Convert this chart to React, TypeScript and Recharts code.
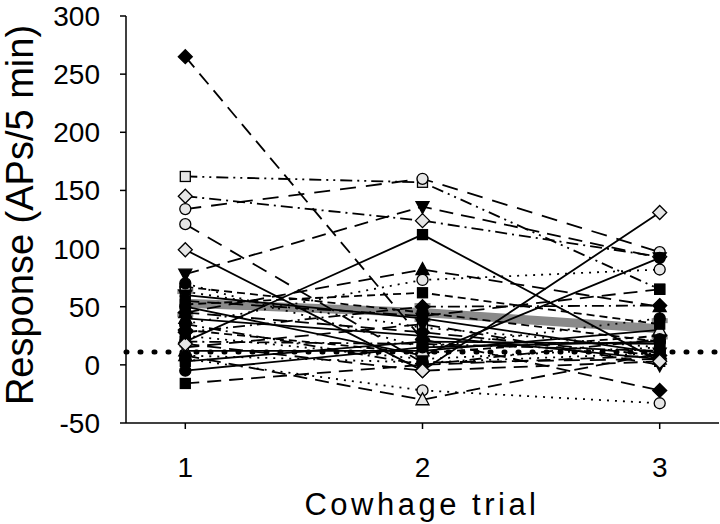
import { LineChart, Line, XAxis, YAxis, ReferenceLine, ErrorBar, Label } from 'recharts'

const trials = [1, 2, 3]

// response of each unit in trials 1, 2, 3 (APs/5 min)
const unitResponses = [
  [265, 22, -22],
  [162, 157, 65],
  [145, 124, 93],
  [134, 160, 97],
  [121, 2, 5],
  [99, -5, 131],
  [78, 136, 92],
  [20, 112, 3],
  [45, 82, 50],
  [35, 73, 82],
  [5, -22, -33],
  [8, -30, 10],
  [-16, 0, 8],
  [-5, 15, 20],
  [67, 45, 20],
  [63, 32, 15],
  [55, 42, 65],
  [50, 8, 92],
  [40, 25, 5],
  [30, 10, 25],
  [25, 5, 15],
  [20, 18, 12],
  [15, 35, 0],
  [12, 12, 30],
  [8, 2, 10],
  [3, 20, 18],
  [45, 28, 8],
  [35, 0, 22],
  [60, 40, 10],
  [18, -5, 3],
  [28, 50, 51],
  [70, 15, 40],
  [52, 62, 35],
]

const meanResponse = [53, 45, 31]
const meanSem = [10, 6, 7]
const baselineResponse = 11
const yTicks = [-50, 0, 50, 100, 150, 200, 250, 300]

type Shape = 'circle' | 'square' | 'diamond' | 'triUp' | 'triDown'

const SHAPES: Shape[] = ['diamond', 'square', 'diamond', 'circle', 'circle', 'diamond', 'triDown', 'square', 'triUp', 'circle', 'circle', 'triUp', 'square', 'circle', 'circle', 'square', 'square', 'circle', 'triUp', 'diamond', 'square', 'circle', 'triDown', 'triUp', 'circle', 'square', 'diamond', 'circle', 'triDown', 'diamond', 'diamond', 'circle', 'square']
const FILLED = [1, 0, 0, 0, 0, 0, 1, 1, 1, 0, 0, 0, 1, 1, 1, 0, 1, 1, 1, 1, 1, 1, 1, 0, 1, 1, 1, 1, 1, 0, 1, 1, 1]
const DASHES = ['14 8', '12 5 2 5 2 5', '12 5 2 5', '16 10', '16 10', '', '14 8', '', '14 8', '2 6', '2 6', '14 8', '14 8', '', '8 5', '2 6', '14 8', '', '', '8 5', '2 6', '12 5 2 5', '14 8', '', '2 6', '', '14 8', '12 5 2 5', '', '14 8', '12 5 2 5', '2 6', '8 5']

const FONT = '"Liberation Sans", Arial, sans-serif'

const rows = trials.map((trial, i) => {
  const row: Record<string, number> = { trial, mean: meanResponse[i], sem: meanSem[i] }
  unitResponses.forEach((s, j) => { row[`u${j}`] = s[i] })
  return row
})

function Marker({ cx, cy, shape, filled }: { cx?: number; cy?: number; shape: Shape; filled: boolean }) {
  if (cx == null || cy == null) return null
  const p = { fill: filled ? '#000' : '#e6e6e6', stroke: '#000', strokeWidth: 1.3 }
  switch (shape) {
    case 'circle':
      return <circle cx={cx} cy={cy} r={5.5} {...p} />
    case 'square':
      return <rect x={cx - 5} y={cy - 5} width={10} height={10} {...p} />
    case 'diamond':
      return <polygon points={`${cx},${cy - 7} ${cx + 7},${cy} ${cx},${cy + 7} ${cx - 7},${cy}`} {...p} />
    case 'triUp':
      return <polygon points={`${cx},${cy - 7} ${cx + 6.5},${cy + 5} ${cx - 6.5},${cy + 5}`} {...p} />
    default:
      return <polygon points={`${cx},${cy + 7} ${cx + 6.5},${cy - 5} ${cx - 6.5},${cy - 5}`} {...p} />
  }
}

export default function App() {
  return (
    <div style={{ width: 720, height: 524, background: '#fff' }}>
      <style>{'body{margin:0}'}</style>
      <LineChart width={720} height={524} data={rows} margin={{ top: 16, right: 1, left: 0, bottom: 0 }}>
        <XAxis
          dataKey="trial"
          type="number"
          domain={[0.75, 3.25]}
          ticks={trials}
          height={101}
          tickSize={6}
          tickMargin={28}
          axisLine={{ stroke: '#000', strokeWidth: 1.5 }}
          tickLine={{ stroke: '#000', strokeWidth: 1.5 }}
          tick={{ fill: '#000', fontSize: 28, fontFamily: FONT }}
        >
          <Label
            content={() => (
              <text x={422} y={515} textAnchor="middle" fontSize={31} letterSpacing={3.5} fontFamily={FONT} fill="#000">
                Cowhage trial
              </text>
            )}
          />
        </XAxis>
        <YAxis
          type="number"
          domain={[-50, 300]}
          ticks={yTicks}
          width={126}
          tickSize={6}
          tickMargin={20}
          interval={0}
          axisLine={{ stroke: '#000', strokeWidth: 1.5 }}
          tickLine={{ stroke: '#000', strokeWidth: 1.5 }}
          tick={{ fill: '#000', fontSize: 28, fontFamily: FONT }}
        >
          <Label
            content={() => (
              <text x={33} y={215} transform="rotate(-90, 33, 215)" textAnchor="middle" fontSize={38} fontFamily={FONT} fill="#000">
                Response (APs/5 min)
              </text>
            )}
          />
        </YAxis>
        <Line dataKey="mean" stroke="#8a8a8a" strokeWidth={9} dot={false} activeDot={false} isAnimationActive={false}>
          <ErrorBar dataKey="sem" direction="y" width={8} stroke="#8a8a8a" strokeWidth={5} />
        </Line>
        {unitResponses.map((_, j) => (
          <Line
            key={`u${j}`}
            dataKey={`u${j}`}
            stroke="#000"
            strokeWidth={1.8}
            strokeDasharray={DASHES[j] || undefined}
            activeDot={false}
            isAnimationActive={false}
            dot={(props: any) => (
              <Marker key={`m${j}-${props.index}`} cx={props.cx} cy={props.cy} shape={SHAPES[j]} filled={FILLED[j] === 1} />
            )}
          />
        ))}
        <ReferenceLine y={baselineResponse} stroke="#000" strokeWidth={5} strokeDasharray="1 13" strokeLinecap="round" />
      </LineChart>
    </div>
  )
}
